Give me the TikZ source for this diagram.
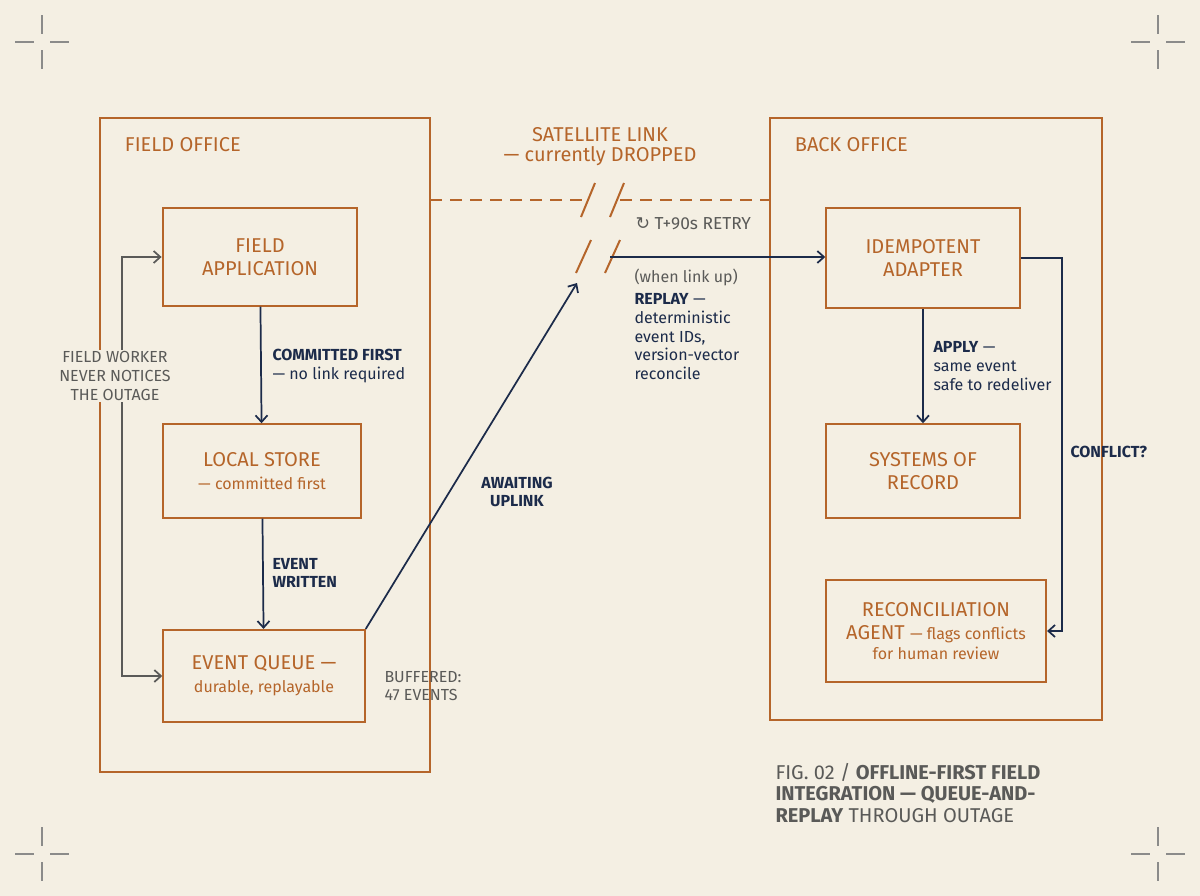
\documentclass[tikz,border=0pt]{standalone}
\usepackage{fontspec}
\setmainfont{Fira Sans}
\newfontfamily\symfont{DejaVu Sans}
\usetikzlibrary{arrows.meta}
\definecolor{paper}{HTML}{F4EFE3}
\definecolor{rust}{HTML}{B5652A}
\definecolor{navy}{HTML}{1C2B4A}
\definecolor{slate}{HTML}{5A5A58}
\tikzset{every picture/.style={line width=0.75pt}}
\tikzset{
  frame/.style={draw=rust, line width=1.5pt},
  stepbox/.style={draw=rust, line width=1.6pt, text=rust, align=center, font=\fontsize{15}{17}\selectfont},
  flow/.style={draw=navy, line width=1.3pt, -{Straight Barb[length=5pt,width=9pt]}},
  note/.style={text=navy, align=left, font=\fontsize{12}{14}\selectfont, inner sep=0.75pt},
}

\begin{document}
\begin{tikzpicture}[x=0.75pt,y=0.75pt,yscale=-1,xscale=1]
    \fill[paper] (0,0) rectangle (1200,896);
    \useasboundingbox (0,0) rectangle (1200,896);

    %Crop marks
    \foreach \cx/\cy in {42/42,1158/42,42/854,1158/854}{
      \draw[slate!70, line width=0.8pt] (\cx-27,\cy) -- (\cx-8,\cy) (\cx+8,\cy) -- (\cx+27,\cy)
        (\cx,\cy-27) -- (\cx,\cy-8) (\cx,\cy+8) -- (\cx,\cy+27);
    }

    %Frames
    \draw[frame] (100,118) rectangle (430,772);
    \draw[frame] (770,118) rectangle (1102,720);
    \node[anchor=west, text=rust, font=\fontsize{15}{17}\selectfont] (fieldlbl) at (120,145) {FIELD OFFICE};
    \node[anchor=west, text=rust, font=\fontsize{15}{17}\selectfont] (backlbl) at (790,145) {BACK OFFICE};

    %Satellite link
    \node[text=rust, align=center, font=\fontsize{15}{17}\selectfont] (satlbl) at (600,147) {SATELLITE LINK\\[-2pt]— currently DROPPED};
    \draw[rust, line width=1.5pt, dash pattern={on 9pt off 6pt}] (430,200) -- (584,200) (620,200) -- (770,200);
    \draw[rust, line width=1.5pt] (595,183) -- (581,217) (624,183) -- (610,217)
      (591,240) -- (576,273) (620,240) -- (605,273);
    \coordinate (gapin) at (577,283);
    \coordinate (gapout) at (610,257);

    %Boxes
    \node[stepbox, minimum width=146pt, minimum height=73pt] (app) at (260,257) {FIELD\\APPLICATION};
    \node[stepbox, minimum width=149pt, minimum height=70pt] (store) at (262,471) {LOCAL STORE\\{\fontsize{12}{14}\selectfont — committed first}};
    \node[stepbox, minimum width=151pt, minimum height=69pt] (queue) at (264,676) {EVENT QUEUE —\\{\fontsize{12}{14}\selectfont durable, replayable}};
    \node[stepbox, minimum width=145pt, minimum height=75pt] (adapter) at (923,258) {IDEMPOTENT\\ADAPTER};
    \node[stepbox, minimum width=145pt, minimum height=70pt] (sor) at (923,471) {SYSTEMS OF\\RECORD};
    \node[stepbox, minimum width=165pt, minimum height=76pt] (recon) at (936,631) {RECONCILIATION\\AGENT {\fontsize{12}{14}\selectfont — flags conflicts}\\[-2pt]{\fontsize{12}{14}\selectfont for human review}};

    %Flows
    \draw[flow] (app) -- (store);
    \draw[flow] (store) -- (queue);
    \draw[flow] (queue.north east) -- (gapin);
    \draw[flow] (gapout) -- (adapter.west |- gapout);
    \draw[flow] (adapter) -- (sor);
    \draw[flow] (adapter.east) -- (1062,258) -- (1062,631) -- (recon.east);
    \draw[slate, line width=1.3pt, {Straight Barb[length=5pt,width=9pt]}-{Straight Barb[length=5pt,width=9pt]}]
      (app.west) -- (122,257) -- (122,676) -- (queue.west);

    %Labels
    \node[fill=paper, text=slate, align=center, font=\fontsize{12}{14}\selectfont, inner sep=1pt] (worker) at (115,376) {FIELD WORKER\\NEVER NOTICES\\THE OUTAGE};
    \node[note, anchor=west] (commit) at (271,366) {\textbf{COMMITTED FIRST}\\— no link required};
    \node[note, anchor=west] (written) at (271,573) {\textbf{EVENT}\\\textbf{WRITTEN}};
    \node[note, align=center] (await) at (517,492) {\textbf{AWAITING}\\\textbf{UPLINK}};
    \node[note, anchor=west, text=slate] (buffer) at (383,686) {BUFFERED:\\47 EVENTS};
    \node[note, anchor=west, text=slate, font=\fontsize{13}{15}\selectfont] (retry) at (634,224) {{\symfont ↻} T+90s RETRY};
    \node[note, anchor=north west] (replay) at (633,267) {{\color{slate}(when link up)}\\[3pt]\textbf{REPLAY} —\\deterministic\\event IDs,\\version-vector\\reconcile};
    \node[note, anchor=west] (apply) at (932,366) {\textbf{APPLY} —\\same event\\safe to redeliver};
    \node[note, anchor=west] (conflict) at (1069,452) {\textbf{CONFLICT?}};

    %Caption
    \node[anchor=north west, text=slate, align=left, font=\fontsize{15}{16}\selectfont, inner sep=0.75pt] (caption) at (774,762)
      {FIG. 02 / \textbf{OFFLINE-FIRST FIELD}\\\textbf{INTEGRATION — QUEUE-AND-}\\\textbf{REPLAY} THROUGH OUTAGE};
\end{tikzpicture}
\end{document}
